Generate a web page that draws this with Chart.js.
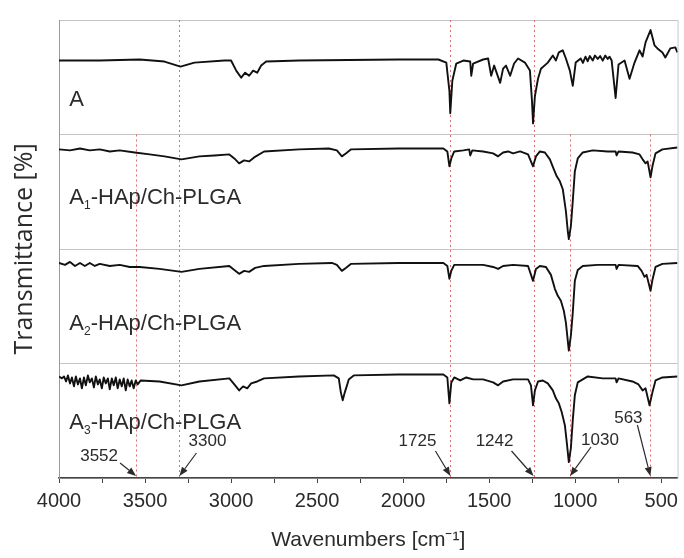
<!DOCTYPE html>
<html>
<head>
<meta charset="utf-8">
<script src="https://cdn.jsdelivr.net/npm/chart.js@4.4.1/dist/chart.umd.min.js"></script>
<style>
  html,body{margin:0;padding:0;background:#fff;}
  #wrap{width:684px;height:558px;position:relative;}
</style>
</head>
<body>
<div id="wrap"><canvas id="ftir"></canvas></div>
<script>
/* ── FTIR spectra: wavenumber [cm-1] / transmittance (panel units 0-100) ── */
const wnA = [4000,3763,3531,3387,3294,3213,3039,3000,2970,2941,2918,2895,2872,2848,2825,2796,2605,2027,1795,1749,
  1731,1726,1714,1691,1650,1610,1604,1593,1535,1506,1488,1471,1436,1419,1402,1378,1355,1332,1292,1263,
  1251,1245,1234,1216,1199,1159,1130,1112,1095,1072,1054,1031,1014,997,968,955,940,927,915,898,
  885,869,855,840,825,811,800,788,765,748,713,684,655,626,608,591,562,539,522,493,476,447,418,406];
const tA  = [64.6,64.6,65.5,63.7,59.3,62.8,64.6,64.6,55.8,49.6,54,51.3,55.8,54,60.2,63.7,64.6,65.5,65.5,62.8,
  38,18.6,46.9,62,64.6,63.7,51.3,62,65.5,66.4,51.3,60.2,45.1,57.5,60.2,51.3,62,66.4,62.8,55.8,
  29.2,9.7,33.6,48.7,57.5,62.8,69,64.6,71.7,73.5,66.4,55.8,42.5,62.8,66.4,62.5,68,64,68.5,64.6,
  69,66,68.5,64.5,69,66,68,64.6,31.9,61.1,64.6,48.7,62.8,73.5,68.1,80.5,91.2,77.9,75.2,71.7,67.3,75.2,76.1,71.7];

const wnA1 = [4000,3936,3878,3821,3763,3705,3647,3560,3473,3387,3288,3184,3097,3010,2981,2953,2924,2895,2866,2808,
  2605,2432,2385,2356,2333,2304,2027,1766,1743,1731,1720,1703,1650,1616,1610,1598,1535,1477,1448,1419,
  1390,1361,1320,1274,1245,1228,1205,1176,1147,1124,1107,1089,1072,1054,1043,1037,1025,1014,1002,985,
  956,898,811,765,759,748,667,626,608,591,579,562,551,533,493,406];
const tA1  = [87,86.1,87.8,86.1,87,85.2,86.1,84.3,82.6,80.9,78.3,80.9,81.7,82.6,79.1,74.8,77.4,76.5,80,85.2,
  87,87.8,86.1,80.9,83.5,87,87.8,87.8,85.2,72.2,79.1,85.2,86.1,87,81.7,86.1,85.2,83.5,80.9,84.3,
  85.2,83.5,85.2,82.6,72.2,80.9,85.2,84.3,78.3,69.6,63.5,59.1,52.2,33,15.7,8.7,20,41.7,67.8,79.1,
  84.3,86.1,85.2,85.2,81.7,85.2,84.3,82.6,78.3,74.8,76.5,62.6,72.2,83.5,87,88.7];

const wnA2 = [4000,3965,3936,3907,3878,3850,3821,3792,3763,3705,3647,3589,3531,3416,3288,3184,3010,2981,2953,2924,
  2895,2860,2808,2605,2414,2385,2356,2333,2304,2027,1766,1743,1731,1720,1703,1622,1535,1477,1448,1419,
  1361,1274,1245,1228,1205,1170,1141,1118,1101,1083,1066,1054,1043,1037,1025,1014,1002,985,956,869,
  765,759,748,637,614,597,585,562,551,533,493,406];
const tA2  = [87.8,86.1,88.7,85.2,87.8,85.2,87.8,85.2,87,85.2,86.1,84.3,84.3,82.6,80,82.6,85.2,81.7,78.3,80.9,
  80,83.5,85.2,87,87.8,86.1,80.9,83.5,87,87.8,87.8,85.2,73.9,80.9,86.1,86.1,86.1,84.3,82.6,85.2,
  86.1,85.2,72.2,82.6,85.2,84.3,77.4,65.2,59.1,54.8,46.1,35.7,20,11.3,24.3,44.3,72.2,81.7,85.2,86.1,
  86.1,82.6,86.1,85.2,80.9,75.7,77.4,63.5,73,84.3,87,87.8];

const wnA3 = [4000,3983,3971,3959,3948,3936,3925,3913,3902,3890,3878,3867,3855,3844,3832,3821,3809,3797,3786,3774,
  3763,3751,3740,3728,3716,3705,3693,3682,3670,3659,3647,3635,3624,3612,3601,3589,3578,3566,3554,3543,
  3525,3416,3288,3184,3010,2981,2953,2930,2906,2883,2848,2808,2605,2403,2374,2362,2351,2339,2328,2316,
  2287,2027,1766,1743,1731,1720,1703,1668,1633,1593,1535,1477,1448,1419,1361,1274,1257,1245,1234,1216,
  1188,1159,1130,1112,1095,1078,1060,1049,1037,1025,1014,1002,985,927,840,765,759,748,667,632,
  608,591,568,551,533,493,406];
const tA3  = [88.7,87,88.7,84.3,89.6,82.6,87.8,80,88.7,81.7,87,78.3,87.8,80.9,89.6,83.5,87,79.1,88.7,81.7,
  86.1,78.3,87.8,82.6,87,77.4,87,80.9,87.8,78.3,86.1,80,87,76.5,86.1,80,85.2,78.3,85.2,81.7,
  85.2,84.3,80.9,84.3,87,81.7,76.5,80,78.3,82.6,84.3,87,88.7,89.6,87,74.8,67.8,74.8,80,86.1,
  89.6,90.4,90.4,87.8,65.2,83.5,87.8,85.2,87.8,86.1,86.1,83.5,80.9,84.3,86.1,86.1,80.9,63.5,76.5,84.3,
  85.2,82.6,76.5,69.6,65.2,57.4,46.1,31.3,13.9,26.1,50.4,72.2,83.5,88.7,87,87,83.5,87,84.3,81.7,
  76.5,78.3,63.5,74.8,85.2,87.8,88.7];

// panel names (base letter, subscript, rest) and where the label sits inside its panel
const sampleBase = ['A','A','A','A'];
const sampleSub  = ['','1','2','3'];
const sampleRest = ['','-HAp/Ch-PLGA','-HAp/Ch-PLGA','-HAp/Ch-PLGA'];
const labelLevel = [25, 39, 29, 43];

// x ticks
const majorTicks = [4000,3500,3000,2500,2000,1500,1000,500];
const minorTicks = [3750,3250,2750,2250,1750,1250,750];

// marked bands: red dotted guides + arrow labels; guideFrom = first panel the guide crosses
const markWn    = [3552,3300,1725,1242,1030,563];
const guideFrom = [1,0,0,0,1,1];

const panelAxes = ['yA','yA1','yA2','yA3'];

/* ── overlay plugin: frame, guides, panel labels, arrows ── */
const tagOffsets = [ // label centre / baseline and arrow tail, relative to arrow tip
  {lx:-37, ly:-15, tx:-16, ty:-13},
  {lx: 28, ly:-30, tx: 17, ty:-23},
  {lx:-33, ly:-30, tx:-15, ty:-25},
  {lx:-39, ly:-30, tx:-22, ty:-25},
  {lx: 30, ly:-31, tx: 21, ty:-29},
  {lx:-22, ly:-53, tx:-13, ty:-51}
];

const overlay = {
  id:'overlay',
  beforeDatasetsDraw(chart){
    const {ctx, chartArea:a, scales} = chart;
    ctx.save();
    ctx.strokeStyle='#c8c8c8'; ctx.lineWidth=1;
    ctx.beginPath(); ctx.moveTo(a.right+.5,a.top); ctx.lineTo(a.right+.5,a.bottom); ctx.stroke();
    ctx.strokeStyle='#e26a6a'; ctx.setLineDash([2,3]);
    markWn.forEach((w,i)=>{
      const px = Math.round(scales.x.getPixelForValue(w))+.5;
      const top = scales[panelAxes[guideFrom[i]]].getPixelForValue(100);
      ctx.beginPath(); ctx.moveTo(px,top); ctx.lineTo(px,a.bottom); ctx.stroke();
    });
    ctx.restore();
  },
  afterDatasetsDraw(chart){
    const {ctx, chartArea:a, scales} = chart;
    ctx.save();
    ctx.fillStyle='#2b2b2b';
    // panel labels
    ctx.textBaseline='alphabetic'; ctx.textAlign='left';
    panelAxes.forEach((id,i)=>{
      let px = scales.x.getPixelForValue(3940);
      const py = scales[id].getPixelForValue(labelLevel[i]);
      ctx.font='22px "Liberation Sans", Arial, sans-serif';
      ctx.fillText(sampleBase[i],px,py); px+=ctx.measureText(sampleBase[i]).width;
      if(sampleSub[i]){
        ctx.font='12px "Liberation Sans", Arial, sans-serif';
        ctx.fillText(sampleSub[i],px,py+5); px+=ctx.measureText(sampleSub[i]).width;
      }
      ctx.font='22px "Liberation Sans", Arial, sans-serif';
      ctx.fillText(sampleRest[i],px,py);
    });
    // band labels with arrows
    ctx.font='17px "Liberation Sans", Arial, sans-serif';
    ctx.textAlign='center';
    ctx.strokeStyle='#2b2b2b'; ctx.lineWidth=1.2;
    markWn.forEach((w,i)=>{
      const o = tagOffsets[i];
      const tipX = scales.x.getPixelForValue(w), tipY = a.bottom-2;
      ctx.fillText(String(w), tipX+o.lx, tipY+o.ly);
      const sx = tipX+o.tx, sy = tipY+o.ty;
      const ang = Math.atan2(tipY-sy, tipX-sx);
      const hx = tipX-9*Math.cos(ang), hy = tipY-9*Math.sin(ang);
      ctx.beginPath(); ctx.moveTo(sx,sy); ctx.lineTo(hx,hy); ctx.stroke();
      ctx.beginPath();
      ctx.moveTo(tipX,tipY);
      ctx.lineTo(hx+3.5*Math.sin(ang), hy-3.5*Math.cos(ang));
      ctx.lineTo(hx-3.5*Math.sin(ang), hy+3.5*Math.cos(ang));
      ctx.closePath(); ctx.fill();
    });
    ctx.restore();
  }
};

const toPts = (wn,t)=>wn.map((w,i)=>({x:w,y:t[i]}));
const spec = (wn,t,axis)=>({data:toPts(wn,t), yAxisID:axis, borderColor:'#111', borderWidth:1.9,
  pointRadius:0, tension:0, fill:false, borderJoinStyle:'round'});

const hiddenY = (min,max)=>({type:'linear', min, max, display:false});

new Chart(document.getElementById('ftir'),{
  type:'line',
  data:{datasets:[
    spec(wnA,tA,'yA'), spec(wnA1,tA1,'yA1'), spec(wnA2,tA2,'yA2'), spec(wnA3,tA3,'yA3')
  ]},
  options:{
    responsive:true, maintainAspectRatio:false, animation:false,
    layout:{padding:{top:20,right:4,left:0,bottom:0}},
    plugins:{legend:{display:false}, tooltip:{enabled:false}},
    scales:{
      x:{
        type:'linear', reverse:true, min:405, max:4000,
        afterBuildTicks:s=>{ s.ticks=[...majorTicks,...minorTicks].sort((p,q)=>q-p).map(v=>({value:v})); },
        afterFit:s=>{ s.height=80; },
        ticks:{autoSkip:false, maxRotation:0, padding:6, color:'#2b2b2b',
          font:{family:'"Liberation Sans", Arial, sans-serif', size:20},
          callback:v=>majorTicks.includes(v)?String(v):''},
        grid:{drawOnChartArea:false, tickLength:5, tickColor:'#444'},
        border:{color:'#444', width:1.5},
        title:{display:true, text:'Wavenumbers [cm⁻¹]', color:'#2b2b2b', padding:{top:0,bottom:5},
          font:{family:'"Liberation Sans", Arial, sans-serif', size:21}}
      },
      yA:hiddenY(-300,100),
      yA1:hiddenY(-200,200),
      yA2:hiddenY(-100,300),
      yA3:{
        type:'linear', min:0, max:400, position:'left',
        afterFit:s=>{ s.width=59; },
        ticks:{display:false, stepSize:100},
        grid:{color:'#c4c4c4', drawTicks:false},
        border:{color:'#9a9a9a'},
        title:{display:true, text:'Transmittance [%]', color:'#2b2b2b', padding:{top:10,bottom:0},
          font:{family:'"Open Sans", sans-serif', size:25}}
      }
    }
  },
  plugins:[overlay]
});
</script>
</body>
</html>
